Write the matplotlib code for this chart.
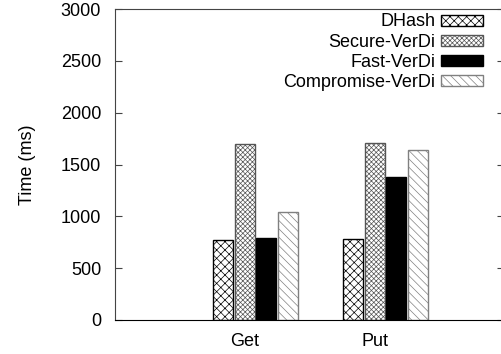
import matplotlib
matplotlib.use("Agg")
import matplotlib.pyplot as plt
import numpy as np

categories = ["Get", "Put"]
series = ["DHash", "Secure-VerDi", "Fast-VerDi", "Compromise-VerDi"]
dhash = [771, 781]
secure = [1697, 1707]
fast = [790, 1379]
compromise = [1041, 1640]
values = [dhash, secure, fast, compromise]
yticks = [0, 500, 1000, 1500, 2000, 2500, 3000]

plt.rcParams['font.family'] = ['Liberation Sans', 'DejaVu Sans']
plt.rcParams['hatch.linewidth'] = 0.5

FS = 13

fig = plt.figure(figsize=(5.02, 3.54), dpi=100)
ax = fig.add_axes([115/502, 1-320/354, 389/502, 311/354])

styles = [
    dict(facecolor='white', edgecolor='black', hatch='xxxx'),
    dict(facecolor='white', edgecolor='#555555', hatch='xxxxxxx'),
    dict(facecolor='black', edgecolor='black', hatch=None),
    dict(facecolor='white', edgecolor='#808080', hatch='\\\\\\\\'),
]
step = 0.167
width = 0.155
x = np.arange(len(categories))
for j, (name, vals) in enumerate(zip(series, values)):
    ax.bar(x + (j - 1.5) * step, vals, width=width, label=name,
           linewidth=1.0, **styles[j])

ax.set_xlim(-1.081, 1.912)
ax.set_ylim(0, 3000)
ax.set_yticks(yticks)
ax.set_xticks(x - 0.08)
ax.set_xticklabels(categories)
ax.tick_params(axis='x', length=0, pad=9, labelsize=FS)
ax.tick_params(axis='y', direction='in', length=5, pad=10, labelsize=FS,
               right=True, color='#444444')
for s in ax.spines.values():
    s.set_color('#444444')
ax.spines['bottom'].set_color('black')

ax.set_ylabel("Time (ms)", fontsize=FS)
ax.yaxis.set_label_coords(-0.224, 0.5)
ax.yaxis.label.set_va('center')

leg = ax.legend(loc='upper right', bbox_to_anchor=(483/502, 1-13.5/354),
                bbox_transform=fig.transFigure, frameon=False, markerfirst=False,
                fontsize=FS, handlelength=2.3, handleheight=0.55,
                labelspacing=0.17, borderpad=0, borderaxespad=0, handletextpad=0.35)

fig.savefig("out.png", dpi=100)
